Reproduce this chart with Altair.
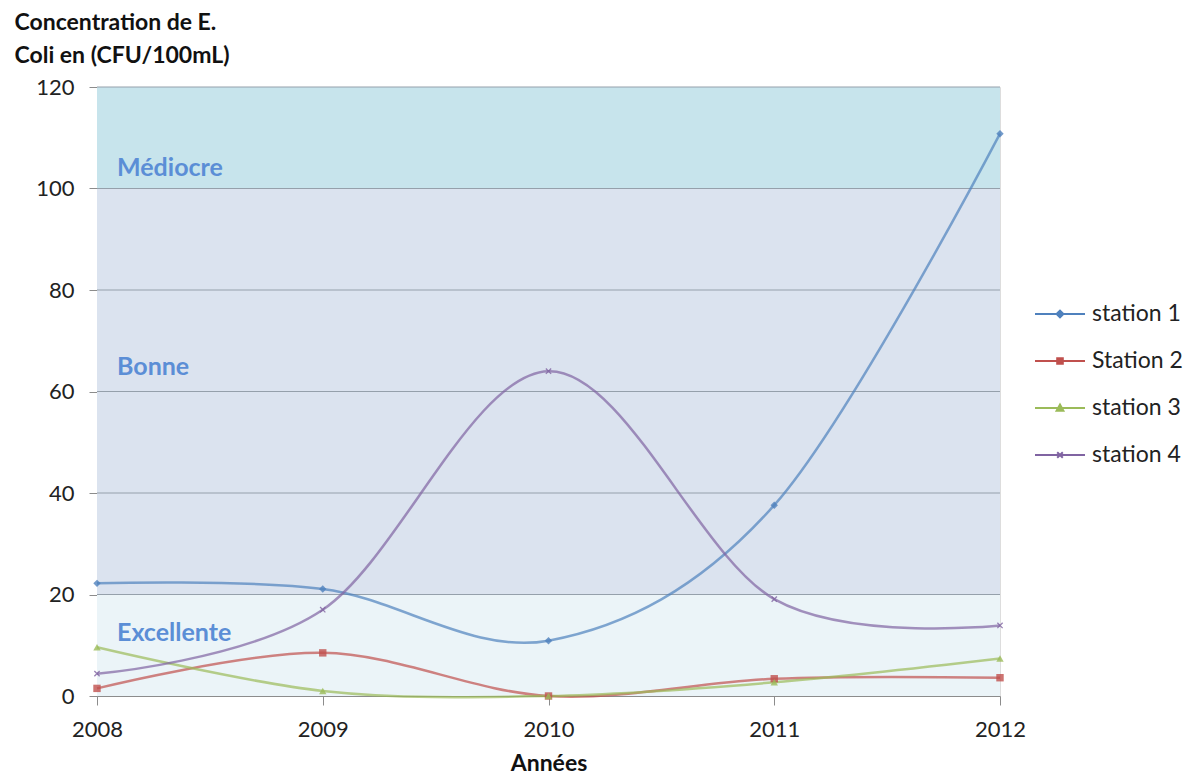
import altair as alt
import pandas as pd

years = [2008, 2009, 2010, 2011, 2012]
station_names = ["station 1", "Station 2", "station 3", "station 4"]
station_1 = [22.2, 21.1, 10.9, 37.6, 110.8]
station_2 = [1.5, 8.5, 0.0, 3.4, 3.6]
station_3 = [9.6, 1.0, 0.0, 2.7, 7.4]
station_4 = [4.4, 17.0, 64.0, 19.1, 13.9]
station_colors = ["#4F81BD", "#C0504D", "#9BBB59", "#8064A2"]
marker_shapes = ["diamond", "square", "triangle-up", "M-1,-1L1,1M-1,1L1,-1"]
legend_shapes = [
    "M-1.25,0H1.25M-0.17,0L0,-0.17L0.17,0L0,0.17Z",
    "M-1.25,0H1.25M-0.14,-0.14H0.14V0.14H-0.14Z",
    "M-1.25,0H1.25M-0.17,0.14L0,-0.17L0.17,0.14Z",
    "M-1.25,0H1.25M-0.14,-0.14L0.14,0.14M-0.14,0.14L0.14,-0.14",
]

band_names = ["Excellente", "Bonne", "Médiocre"]
band_low = [0, 20, 100]
band_high = [20, 100, 120]
band_fills = ["#EBF4F8", "#DBE3EF", "#C7E4EC"]
band_label_values = [12.4, 64.8, 104.0]
grid_values = [20, 40, 60, 80, 100, 120]
y_ticks = [0, 20, 40, 60, 80, 100, 120]
y_title = ["Concentration de E.", "Coli en (CFU/100mL)"]

FONT = "Lato"

rows = []
for name, vals, shp in zip(station_names, [station_1, station_2, station_3, station_4], marker_shapes):
    for yr, v in zip(years, vals):
        rows.append({"year": yr, "value": v, "station": name, "marker": shp})
df = pd.DataFrame(rows)

bands = pd.DataFrame({"name": band_names, "lo": band_low, "hi": band_high,
                      "fill": band_fills, "labely": band_label_values,
                      "year": [years[0]] * 3})
grid = pd.DataFrame({"g": grid_values})

x_enc = alt.X("year:Q",
              scale=alt.Scale(domain=[years[0], years[-1]], nice=False, zero=False),
              axis=alt.Axis(values=years, format="d", grid=False, domainColor="#8C8C8C",
                            tickColor="#8C8C8C", tickSize=9, labelFontSize=22, labelFont=FONT,
                            labelColor="#222222", labelPadding=14, labelFlush=False,
                            labelOverlap=False, title="Années",
                            titleFont=FONT, titleFontSize=23, titleFontWeight="bold",
                            titleColor="#111111", titlePadding=12))
y_axis = alt.Axis(values=y_ticks, grid=False, domainColor="#8C8C8C", tickColor="#8C8C8C",
                  tickSize=8, labelFontSize=22, labelFont=FONT, labelColor="#222222",
                  labelPadding=15, labelFlush=False, labelOverlap=False,
                  title=y_title, titleAngle=0,
                  titleAlign="left", titleBaseline="alphabetic", titleX=-83, titleY=-58,
                  titleFont=FONT, titleFontSize=23, titleFontWeight="bold",
                  titleColor="#111111", titleLineHeight=33)
y_scale = alt.Scale(domain=[0, 120], nice=False)

legend = alt.Legend(orient="none", legendX=942, legendY=206, title=None,
                    labelFontSize=23, labelFont=FONT, labelColor="#222222",
                    symbolSize=1600, symbolStrokeWidth=2, symbolOpacity=1,
                    rowPadding=14, labelOffset=11)
color_enc = alt.Color("station:N", scale=alt.Scale(domain=station_names, range=station_colors),
                      legend=legend)

band_rect = alt.Chart(bands).mark_rect().encode(
    y=alt.Y("lo:Q", scale=y_scale, axis=y_axis), y2="hi:Q",
    fill=alt.Fill("fill:N", scale=None))

grid_rules = alt.Chart(grid).mark_rule(color="#95A0AB", strokeWidth=1).encode(
    y=alt.Y("g:Q", scale=y_scale, axis=y_axis))

band_text = alt.Chart(bands).mark_text(align="left", baseline="middle", dx=20,
                                       fontSize=25, fontWeight="bold", font=FONT,
                                       color="#5B8ED6").encode(
    x=x_enc, y=alt.Y("labely:Q", scale=y_scale, axis=y_axis), text="name:N")

lines = alt.Chart(df).mark_line(interpolate="cardinal", strokeWidth=2.5, strokeOpacity=0.7).encode(
    x=x_enc, y=alt.Y("value:Q", scale=y_scale, axis=y_axis), color=color_enc,
    detail="station:N")

pts_filled = alt.Chart(df).transform_filter(alt.datum.station != "station 4").mark_point(
    filled=True, size=55, opacity=0.8).encode(
    x=x_enc, y=alt.Y("value:Q", scale=y_scale, axis=y_axis), color=color_enc,
    shape=alt.Shape("marker:N", scale=None))

pts_x = alt.Chart(df).transform_filter(alt.datum.station == "station 4").mark_point(
    filled=False, size=28, strokeWidth=1.3, opacity=0.8).encode(
    x=x_enc, y=alt.Y("value:Q", scale=y_scale, axis=y_axis), color=color_enc,
    shape=alt.Shape("marker:N", scale=None))

legend_layer = alt.Chart(df).transform_filter("false").mark_point(
    filled=False, size=1600, strokeWidth=2).encode(
    x=x_enc, y=alt.Y("value:Q", scale=y_scale, axis=y_axis), color=color_enc,
    shape=alt.Shape("station:N", scale=alt.Scale(domain=station_names, range=legend_shapes),
                    legend=legend))

chart = alt.layer(band_rect, grid_rules, band_text, lines, pts_filled, pts_x, legend_layer).properties(
    width=903, height=609,
    autosize=alt.AutoSizeParams(type="none"),
    padding={"left": 89, "top": 79, "right": 186, "bottom": 83},
).configure_view(stroke=None).configure(background="white")

chart.save("out.html", embed_options={"renderer": "svg", "actions": False})
